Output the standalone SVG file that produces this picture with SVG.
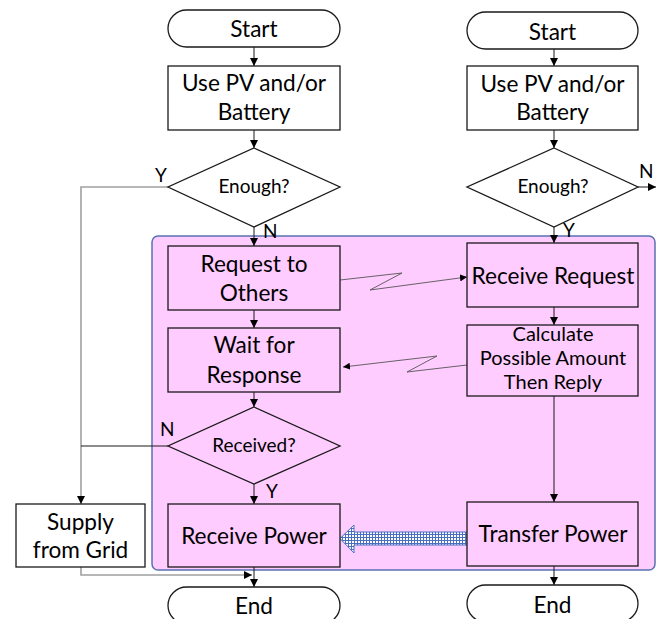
<svg xmlns="http://www.w3.org/2000/svg" width="665" height="619" viewBox="0 0 665 619">
  <style>
    .box { fill: #ffffff; stroke: #1a1a1a; stroke-width: 1.3; }
    .pbox { fill: #ffccff; stroke: #1a1a1a; stroke-width: 1.3; }
    .t { font-family: Lato, "Open Sans", "Liberation Sans", sans-serif; font-size: 22.6px; fill: #000; text-anchor: middle; }
    .tm { font-family: Lato, "Open Sans", "Liberation Sans", sans-serif; font-size: 20px; fill: #000; text-anchor: middle; }
    .ts { font-family: Lato, "Open Sans", "Liberation Sans", sans-serif; font-size: 19px; fill: #000; text-anchor: middle; }
    .lbl { font-family: Lato, "Open Sans", "Liberation Sans", sans-serif; font-size: 19px; fill: #000; }
    .ln { fill: none; stroke: #1a1a1a; stroke-width: 1; }
    .gl { fill: none; stroke: #a0a0a0; stroke-width: 1.6; }
    .zz { fill: none; stroke: #555; stroke-width: 0.9; }
  </style>
  <defs>
    <marker id="ah" viewBox="0 0 10 10" refX="10" refY="5" markerWidth="8" markerHeight="8" markerUnits="userSpaceOnUse" orient="auto">
      <path d="M0,0 L10,5 L0,10 z" fill="#000"/>
    </marker>
    <marker id="ahs" viewBox="0 0 10 10" refX="10" refY="5" markerWidth="7" markerHeight="7" markerUnits="userSpaceOnUse" orient="auto">
      <path d="M0,0 L10,5 L0,10 z" fill="#000"/>
    </marker>
    <pattern id="grid" width="3" height="3" patternUnits="userSpaceOnUse">
      <rect width="3" height="3" fill="#ffffff"/>
      <path d="M0,0.5 H3 M0.5,0 V3" stroke="#4a6fc0" stroke-width="1"/>
    </pattern>
  </defs>

  <!-- shared region for the exchange steps -->
  <rect id="exchange-area" x="152" y="236" width="503" height="334" rx="6" fill="#ffccff" stroke="#5a72b0" stroke-width="1.5"/>

  <!-- connectors -->
  <g id="connectors">
    <!-- left flow -->
    <line class="ln" x1="254" y1="47" x2="254" y2="66" marker-end="url(#ah)"/>
    <line class="ln" x1="254" y1="130" x2="254" y2="148" marker-end="url(#ah)"/>
    <line class="ln" x1="254" y1="227" x2="254" y2="246" marker-end="url(#ah)"/>
    <line class="ln" x1="254" y1="310" x2="254" y2="328" marker-end="url(#ah)"/>
    <line class="ln" x1="254" y1="392" x2="254" y2="407" marker-end="url(#ah)"/>
    <line class="ln" x1="254" y1="484" x2="254" y2="504" marker-end="url(#ah)"/>
    <line class="ln" x1="254" y1="567" x2="254" y2="587" marker-end="url(#ah)"/>
    <polyline class="gl" points="168,187 81,187 81,504" marker-end="url(#ah)"/>
    <line class="ln" x1="168" y1="446" x2="81" y2="446"/>
    <polyline class="gl" points="81,567 81,575 252,575" marker-end="url(#ah)"/>
    <!-- right flow -->
    <line class="ln" x1="554" y1="49" x2="554" y2="66" marker-end="url(#ah)"/>
    <line class="ln" x1="554" y1="130" x2="554" y2="148" marker-end="url(#ah)"/>
    <line class="ln" x1="638" y1="187" x2="656" y2="187" marker-end="url(#ah)"/>
    <line class="ln" x1="554" y1="227" x2="554" y2="243" marker-end="url(#ah)"/>
    <line class="ln" x1="554" y1="307" x2="554" y2="325" marker-end="url(#ah)"/>
    <line class="ln" x1="554" y1="396" x2="554" y2="502" marker-end="url(#ah)"/>
    <line class="ln" x1="554" y1="566" x2="554" y2="585" marker-end="url(#ah)"/>
    <!-- messages between the two sides -->
    <polyline class="zz" points="340,280 402,273 370,290 467,277" marker-end="url(#ahs)"/>
    <polyline class="zz" points="467,365 407,372 437,356 343,367" marker-end="url(#ahs)"/>
    <!-- power transfer -->
    <path d="M467,532 L354,532 L354,525 L340,538.5 L354,553 L354,545 L467,545 z" fill="url(#grid)" stroke="#4a6fc0" stroke-width="1"/>
    <!-- branch labels -->
    <text class="lbl" x="155" y="182">Y</text>
    <text class="lbl" x="263" y="238">N</text>
    <text class="lbl" x="160" y="436">N</text>
    <text class="lbl" x="266" y="498">Y</text>
    <text class="lbl" x="639" y="178">N</text>
    <text class="lbl" x="563" y="237">Y</text>
  </g>

  <!-- left side nodes -->
  <g id="start-left">
    <rect class="box" x="168" y="10" width="172" height="37" rx="18.5"/>
    <text class="t" x="254" y="37">Start</text>
  </g>
  <g id="use-pv-left">
    <rect class="box" x="168" y="66" width="172" height="64"/>
    <text class="t" x="254" y="91">Use PV and/or</text>
    <text class="t" x="254" y="120">Battery</text>
  </g>
  <g id="enough-left">
    <polygon class="box" points="254,148 340,187 254,227 168,187"/>
    <text class="ts" x="254" y="193">Enough?</text>
  </g>
  <g id="request-to-others">
    <rect class="pbox" x="168" y="246" width="172" height="64"/>
    <text class="t" x="254" y="272">Request to</text>
    <text class="t" x="254" y="301">Others</text>
  </g>
  <g id="wait-for-response">
    <rect class="pbox" x="168" y="328" width="172" height="64"/>
    <text class="t" x="254" y="353">Wait for</text>
    <text class="t" x="254" y="383">Response</text>
  </g>
  <g id="received">
    <polygon class="pbox" points="254,407 340,446 254,484 168,446"/>
    <text class="ts" x="254" y="452">Received?</text>
  </g>
  <g id="receive-power">
    <rect class="pbox" x="168" y="504" width="172" height="63"/>
    <text class="t" x="254" y="544">Receive Power</text>
  </g>
  <g id="supply-from-grid">
    <rect class="box" x="16" y="504" width="129" height="63"/>
    <text class="t" x="80.5" y="530">Supply</text>
    <text class="t" x="80.5" y="558">from Grid</text>
  </g>
  <g id="end-left">
    <rect class="box" x="168" y="587" width="172" height="37" rx="18.5"/>
    <text class="t" x="254" y="614">End</text>
  </g>

  <!-- right side nodes -->
  <g id="start-right">
    <rect class="box" x="467" y="12" width="171" height="37" rx="18.5"/>
    <text class="t" x="552.5" y="40">Start</text>
  </g>
  <g id="use-pv-right">
    <rect class="box" x="467" y="66" width="171" height="64"/>
    <text class="t" x="552.5" y="92">Use PV and/or</text>
    <text class="t" x="552.5" y="120">Battery</text>
  </g>
  <g id="enough-right">
    <polygon class="box" points="554,148 638,187 554,227 467,187"/>
    <text class="ts" x="553" y="193">Enough?</text>
  </g>
  <g id="receive-request">
    <rect class="pbox" x="467" y="243" width="171" height="64"/>
    <text class="t" x="553" y="284">Receive Request</text>
  </g>
  <g id="calculate-reply">
    <rect class="pbox" x="467" y="325" width="171" height="71"/>
    <text class="tm" x="553" y="341">Calculate</text>
    <text class="tm" x="553" y="365">Possible Amount</text>
    <text class="tm" x="553" y="389">Then Reply</text>
  </g>
  <g id="transfer-power">
    <rect class="pbox" x="467" y="502" width="171" height="64"/>
    <text class="t" x="553" y="542">Transfer Power</text>
  </g>
  <g id="end-right">
    <rect class="box" x="467" y="585" width="171" height="37" rx="18.5"/>
    <text class="t" x="552.5" y="613">End</text>
  </g>
</svg>
